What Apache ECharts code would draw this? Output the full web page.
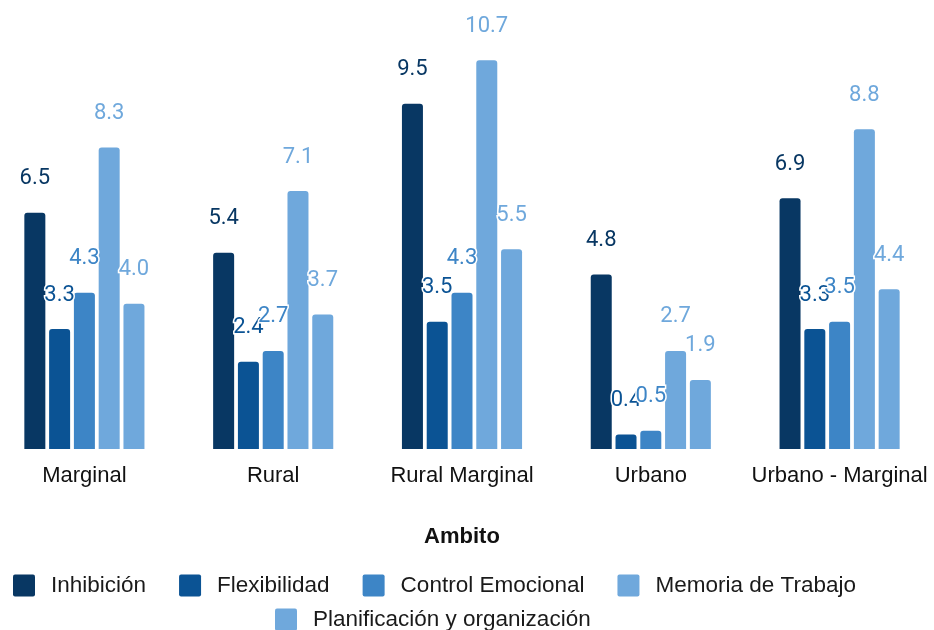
<!DOCTYPE html>
<html>
<head>
<meta charset="utf-8">
<style>
  html, body { margin: 0; padding: 0; background: #fff; overflow: hidden; }
  #main { width: 944px; height: 630px; margin-left: -10px; }
</style>
<script src="https://cdn.jsdelivr.net/npm/echarts@6/dist/echarts.min.js"></script>
</head>
<body>
<div id="main"></div>
<script>
// categorias y valores por serie
var ambitos = ["Marginal", "Rural", "Rural Marginal", "Urbano", "Urbano - Marginal"];
var seriesNames = ["Inhibición", "Flexibilidad", "Control Emocional", "Memoria de Trabajo", "Planificación y organización"];
var inhibicion = [6.5, 5.4, 9.5, 4.8, 6.9];
var flexibilidad = [3.3, 2.4, 3.5, 0.4, 3.3];
var controlEmocional = [4.3, 2.7, 4.3, 0.5, 3.5];
var memoriaTrabajo = [8.3, 7.1, 10.7, 2.7, 8.8];
var planificacion = [4.0, 3.7, 5.5, 1.9, 4.4];
var colors = ["#083763", "#0b5394", "#3d85c6", "#6fa8dc", "#6fa8dc"];

var allData = [inhibicion, flexibilidad, controlEmocional, memoriaTrabajo, planificacion];
var sansFont = "'Liberation Sans', Arial, sans-serif";

var legendBase = {
  padding: 0,
  itemWidth: 22,
  itemHeight: 22,
  itemGap: 33,
  icon: "path://M2,0 L20,0 Q22,0 22,2 L22,20 Q22,22 20,22 L2,22 Q0,22 0,20 L0,2 Q0,0 2,0 Z",
  textStyle: { fontSize: 22.5, fontFamily: sansFont, color: "#1a1a1a", padding: [0, 0, 0, 11] }
};

var myChart = echarts.init(document.getElementById("main"));

myChart.setOption({
  animation: false,
  textStyle: { fontFamily: "Roboto" },
  grid: { left: 0, right: 0, top: 13, bottom: 181, containLabel: false },
  legend: [
    Object.assign({}, legendBase, { data: seriesNames.slice(0, 4), top: 574, left: 23 }),
    Object.assign({}, legendBase, { data: seriesNames.slice(4), top: 608, left: 285 })
  ],
  xAxis: {
    type: "category",
    data: ambitos,
    name: "Ambito",
    nameLocation: "middle",
    nameGap: 77,
    nameTextStyle: { fontSize: 22, fontWeight: "bold", fontFamily: sansFont, color: "#111" },
    axisLine: { show: false },
    axisTick: { show: false },
    axisLabel: { interval: 0, fontSize: 22, fontFamily: sansFont, color: "#111", margin: 16 }
  },
  yAxis: {
    type: "value",
    min: 0,
    max: 12,
    show: false,
    splitLine: { show: false }
  },
  series: allData.map(function (d, i) {
    return {
      name: seriesNames[i],
      type: "bar",
      data: d,
      barWidth: 21,
      barGap: "18%",
      itemStyle: { color: colors[i], borderRadius: [3, 3, 0, 0] },
      label: {
        show: true,
        position: "top",
        distance: 23,
        fontSize: 22,
        color: colors[i],
        textBorderColor: "#fff",
        textBorderWidth: 3,
        formatter: function (p) { return p.value.toFixed(1); }
      }
    };
  })
});
</script>
</body>
</html>
